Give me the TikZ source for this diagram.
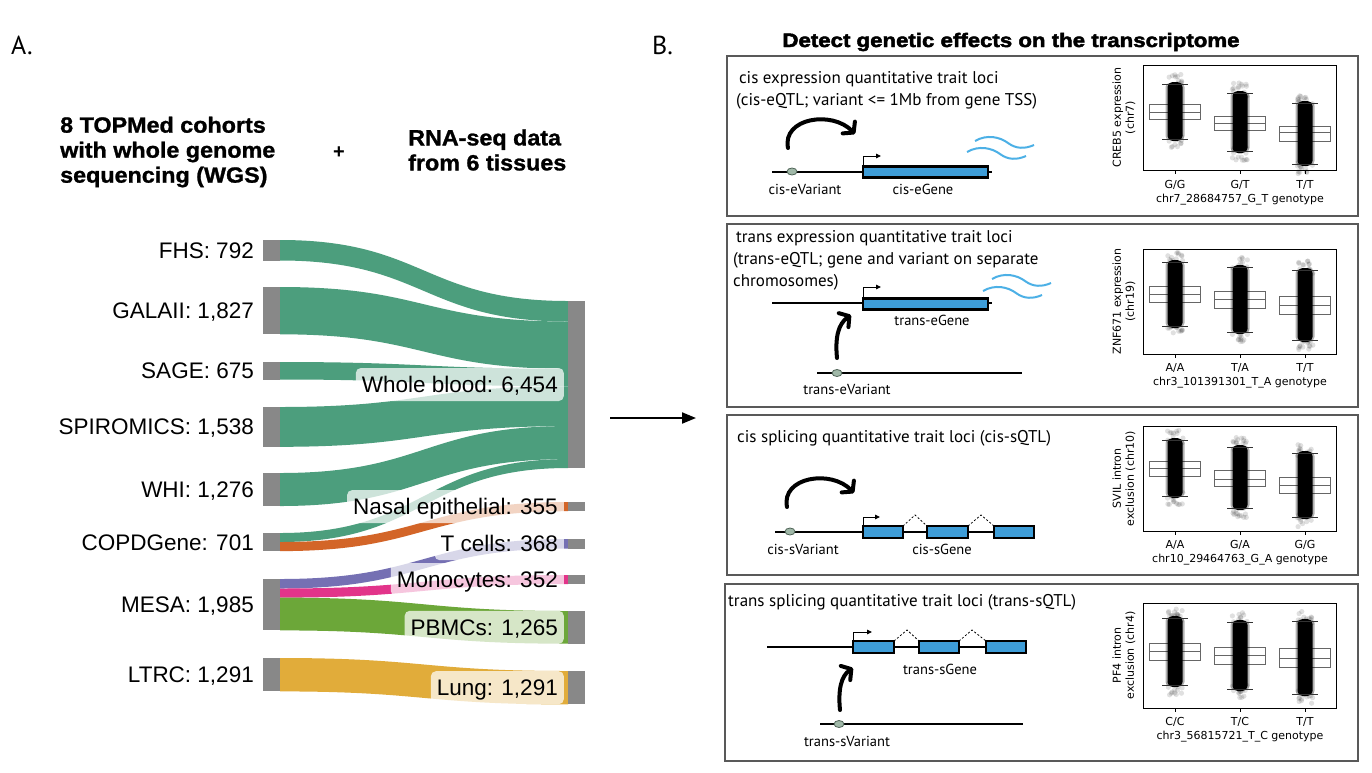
\documentclass[tikz,border=0pt]{standalone}
\usepackage{fontspec}
\setmainfont{Liberation Sans}
\newfontfamily\myr{PT Sans}
\newfontfamily\dv{DejaVu Sans}
\newfontfamily\heavy[BoldFeatures={FakeBold=2.5,FakeStretch=1.14}]{Liberation Sans}
\newfontfamily\semiheavy[BoldFeatures={FakeBold=1.2,FakeStretch=1.06}]{Liberation Sans}
\usetikzlibrary{arrows.meta,shapes.geometric}
\definecolor{wbg}{RGB}{76,158,125}
\definecolor{nas}{RGB}{211,101,40}
\definecolor{tce}{RGB}{117,112,179}
\definecolor{mon}{RGB}{226,52,138}
\definecolor{pbm}{RGB}{108,167,57}
\definecolor{lun}{RGB}{225,172,58}
\definecolor{barg}{RGB}{136,136,136}
\definecolor{exon}{RGB}{62,157,216}
\definecolor{wave}{RGB}{76,176,230}
\definecolor{varc}{RGB}{160,184,168}
\definecolor{vard}{RGB}{80,100,88}
\newcommand\sflow[5]{\fill[#1] (280,#2) .. controls (424,#2) and (424,#4) .. (568,#4) -- (568,#5) .. controls (424,#5) and (424,#3) .. (280,#3) -- cycle;}
\newcommand\wavy[2]{\draw[wavest] (#1,#2) .. controls (#1+12,#2-7) and (#1+25,#2-4) .. (#1+33,#2+2) .. controls (#1+41,#2+8) and (#1+50,#2+8) .. (#1+59,#2+4);}
\newcommand\bxp[6]{%
  \draw[bxs] (#1-25.5,#3) rectangle (#1+25.5,#5);
  \draw[bxs] (#1-25.5,#4) -- (#1+25.5,#4);
  \foreach \k in {1,...,16}{%
    \pgfmathsetmacro\jx{#1+8*rand}%
    \pgfmathsetmacro\jy{#2+4-14*rnd}%
    \fill[black,fill opacity=0.12] (\jx,\jy) circle (2.6);
    \pgfmathsetmacro\jy{#6-4+14*rnd}%
    \fill[black,fill opacity=0.12] (\jx,\jy) circle (2.6);
  }
  \fill[black,fill opacity=0.3,rounded corners=4pt] (#1-9.5,#2-1) rectangle (#1+9.5,#6+1);
  \fill[black,rounded corners=5pt] (#1-7.5,#2-2) rectangle (#1+7.5,#6+2);
  \draw[bxs,draw=black!80] (#1-13,#2) -- (#1+13,#2) (#1-13,#6) -- (#1+13,#6);
}
\newcommand\pframe{%
  \draw[line width=0.8pt] (1143,0) rectangle (1336,105);
  \draw[line width=0.8pt] (1175,105) -- (1175,109) (1240,105) -- (1240,109) (1305,105) -- (1305,109);
}
\begin{document}
\begin{tikzpicture}[x=1pt,y=-1pt,
  lbl/.style={font=\fontsize{22.5}{26}\selectfont, anchor=east, inner sep=0, text height=16pt, text depth=0pt},
  tlbl/.style={font=\fontsize{22.5}{26}\selectfont, anchor=east, fill=white, fill opacity=0.72, text opacity=1, rounded corners=5pt, minimum height=33pt, inner xsep=6pt, inner ysep=0pt, text height=16pt, text depth=0pt},
  hdr/.style={font=\semiheavy\bfseries\fontsize{22}{25}\selectfont, anchor=west, align=left, inner sep=0},
  qbox/.style={draw=black!65, line width=1.3pt},
  gline/.style={line width=2pt, draw=black},
  exonst/.style={fill=exon, draw=black, line width=2.2pt},
  tss/.style={line width=0.9pt, -{Triangle[length=5pt,width=4.5pt]}},
  wavest/.style={draw=wave, line width=2pt},
  varn/.style={ellipse, fill=varc, draw=vard, line width=0.8pt, minimum width=10pt, minimum height=7pt, inner sep=0},
  curvy/.style={line width=4pt, line cap=round, -{Straight Barb[length=7pt,width=17pt,round]}},
  splice/.style={line width=0.8pt, dash pattern=on 2pt off 2pt},
  small/.style={font=\myr\fontsize{14.5}{16}\selectfont, inner sep=0},
  ttl/.style={font=\myr\fontsize{17}{22}\selectfont, anchor=west, align=left, inner sep=0},
  bxs/.style={draw=black!60, line width=0.9pt},
  ptxt/.style={font=\dv\fontsize{11}{13}\selectfont, inner sep=0},
  ylab/.style={font=\dv\fontsize{11}{13}\selectfont, inner sep=0, rotate=90, align=center}
]
\useasboundingbox (0,0) rectangle (1372,772);
\fill[white] (0,0) rectangle (1372,772);

% ---------------- Panel A ----------------
\node[font=\myr\fontsize{26}{30}\selectfont, anchor=west, inner sep=0] (lA) at (11,45) {A.};
\node[hdr] (h1) at (60,152) {8 TOPMed cohorts\\with whole genome\\sequencing (WGS)};
\node[font=\bfseries\fontsize{20}{24}\selectfont, inner sep=0] (plus) at (339,153) {+};
\node[hdr] (h2) at (408,150) {RNA-seq data\\from 6 tissues};

% flows
\sflow{wbg}{240}{260.5}{301}{321.5}
\sflow{wbg}{287}{334.3}{321.5}{368.8}
\sflow{wbg}{362}{379.5}{368.8}{386.3}
\sflow{wbg}{407}{446.8}{386.3}{426.1}
\sflow{wbg}{473}{506}{426.1}{459.1}
\sflow{wbg}{533}{542}{459.1}{468}
\sflow{nas}{542}{551.1}{502}{511.2}
\sflow{tce}{579}{588.5}{539}{548.5}
\sflow{mon}{588.5}{597.6}{575}{584.1}
\sflow{pbm}{597.6}{630.4}{611}{643.7}
\sflow{lun}{658}{691.4}{671}{704.4}

% source bars
\foreach \a/\b in {240/260.5,287/334.3,362/379.5,407/446.8,473/506,533/551.1,579/630.4,658/691.4}
  \fill[barg] (263,\a) rectangle (280,\b);
% target bars
\foreach \a/\b in {301/468,502/511.2,539/548.5,575/584.1,611/643.7,671/704.4}
  \fill[barg] (568,\a) rectangle (585,\b);

% source labels
\node[lbl] (sFHS) at (254,250) {FHS: 792};
\node[lbl] (sGAL) at (254,310.6) {GALAII: 1,827};
\node[lbl] (sSAG) at (254,370.7) {SAGE: 675};
\node[lbl] (sSPI) at (254,426.9) {SPIROMICS: 1,538};
\node[lbl] (sWHI) at (254,489.5) {WHI: 1,276};
\node[lbl] (sCOP) at (254,542) {COPDGene: 701};
\node[lbl] (sMES) at (254,604.7) {MESA: 1,985};
\node[lbl] (sLTR) at (254,674.7) {LTRC: 1,291};

% target labels
\node[tlbl] (tWB) at (564,384.5) {Whole blood: 6,454};
\node[tlbl] (tNE) at (564,506.6) {Nasal epithelial: 355};
\node[tlbl] (tTC) at (564,543.7) {T cells: 368};
\node[tlbl] (tMO) at (564,579.5) {Monocytes: 352};
\node[tlbl] (tPB) at (564,627.3) {PBMCs: 1,265};
\node[tlbl] (tLU) at (564,687.7) {Lung: 1,291};

% big arrow
\coordinate (aS) at (610,418);
\coordinate (aE) at (696,418);
\draw[line width=2pt,-{Triangle[length=14pt,width=11pt]}] (aS) -- (aE);

% ---------------- Panel B ----------------
\node[font=\myr\fontsize{26}{30}\selectfont, anchor=west, inner sep=0] (lB) at (652,45) {B.};
\node[font=\heavy\bfseries\fontsize{19.5}{22}\selectfont, inner sep=0] (title) at (1011,42) {Detect genetic effects on the transcriptome};

\draw[qbox] (727,56) rectangle (1358,216);
\draw[qbox] (727,224) rectangle (1358,407);
\draw[qbox] (727,415) rectangle (1358,575);
\draw[qbox] (725,584) rectangle (1358,761);

% box 1: cis-eQTL
\node[ttl] (t1) at (736,90.5) {\,cis expression quantitative trait loci\\(cis-eQTL; variant <= 1Mb from gene TSS)};
\draw[gline] (772,171.5) -- (863,171.5);
\draw[gline] (988,171.5) -- (992,171.5);
\draw[exonst] (863,166.5) rectangle (988,177.5);
\draw[tss] (863,166.5) -- (863,156) -- (881,156);
\node[varn] (v1) at (792,171.5) {};
\node[small] (v1l) at (805,189) {cis-eVariant};
\node[small] (g1l) at (923,189) {cis-eGene};
\draw[curvy] (788,148) .. controls (782,118) and (832,110) .. (855,134);
\wavy{975}{141}
\wavy{967}{152}

% box 2: trans-eQTL
\node[ttl] (t2) at (733,260) {\,trans expression quantitative trait loci\\(trans-eQTL; gene and variant on separate\\chromosomes)};
\draw[gline] (772,303) -- (863,303);
\draw[gline] (988,303) -- (992,303);
\draw[exonst] (863,298.5) rectangle (988,309.5);
\draw[tss] (863,298.5) -- (863,287) -- (881,287);
\node[small] (g2l) at (932,320) {trans-eGene};
\draw[gline] (817,373) -- (1022,373);
\node[varn] (v2) at (837,373) {};
\node[small] (v2l) at (847,389) {trans-eVariant};
\draw[curvy] (837,358) .. controls (835,338) and (838,324) .. (851,315);
\wavy{992}{279}
\wavy{983}{291}

% box 3: cis-sQTL
\node[ttl] (t3) at (737,438) {cis splicing quantitative trait loci (cis-sQTL)};
\draw[gline] (775,531.5) -- (863,531.5);
\draw[gline] (903,531.5) -- (927,531.5) (968,531.5) -- (994,531.5);
\draw[exonst] (863,526) rectangle (903,538);
\draw[exonst] (927,526) rectangle (968,538);
\draw[exonst] (994,526) rectangle (1034,538);
\draw[splice] (903,526) -- (915,515) -- (927,526);
\draw[splice] (968,526) -- (981,515) -- (994,526);
\draw[tss] (863,526) -- (863,517) -- (880,517);
\node[varn] (v3) at (790,531.5) {};
\node[small] (v3l) at (803,549) {cis-sVariant};
\node[small] (g3l) at (942,549) {cis-sGene};
\draw[curvy] (787,507) .. controls (781,477) and (831,469) .. (854,493);

% box 4: trans-sQTL
\node[ttl] (t4) at (728,602) {trans splicing quantitative trait loci (trans-sQTL)};
\draw[gline] (767,646.5) -- (853,646.5);
\draw[gline] (894,646.5) -- (919,646.5) (959,646.5) -- (986,646.5);
\draw[exonst] (853,641) rectangle (894,653);
\draw[exonst] (919,641) rectangle (959,653);
\draw[exonst] (986,641) rectangle (1026,653);
\draw[splice] (894,641) -- (907,630) -- (919,641);
\draw[splice] (959,641) -- (972,630) -- (986,641);
\draw[tss] (853,641) -- (853,632) -- (872,632);
\node[small] (g4l) at (940,669) {trans-sGene};
\draw[gline] (820,724) -- (1023,724);
\node[varn] (v4) at (839,724) {};
\node[small] (v4l) at (847,741) {trans-sVariant};
\draw[curvy] (840,710) .. controls (838,690) and (841,676) .. (853,668);

% ---------------- plots ----------------
\pgfmathsetseed{7}
\begin{scope}[shift={(0,65)}]
  \bxp{1175}{19}{39}{47}{54}{74}
  \bxp{1240}{28}{51}{58}{65}{86}
  \bxp{1305}{38}{61}{67}{76}{99}
  \pframe
\end{scope}
\node[ptxt] (p1a) at (1175,185) {G/G};
\node[ptxt] (p1b) at (1240,185) {G/T};
\node[ptxt] (p1c) at (1305,185) {T/T};
\node[ptxt] (p1x) at (1240,200) {chr7\_28684757\_G\_T genotype};
\node[ylab] (p1y) at (1124,117.5) {CREB5 expression\\(chr7)};

\begin{scope}[shift={(0,249)}]
  \bxp{1175}{13}{37}{45}{53}{77}
  \bxp{1240}{18}{42}{50}{59}{83}
  \bxp{1305}{21}{47}{56}{65}{91}
  \pframe
\end{scope}
\node[ptxt] (p2a) at (1175,368) {A/A};
\node[ptxt] (p2b) at (1240,368) {T/A};
\node[ptxt] (p2c) at (1305,368) {T/T};
\node[ptxt] (p2x) at (1240,383) {chr3\_101391301\_T\_A genotype};
\node[ylab] (p2y) at (1124,301.5) {ZNF671 expression\\(chr19)};

\begin{scope}[shift={(0,426)}]
  \bxp{1175}{14}{35}{42}{50}{70}
  \bxp{1240}{21}{44}{53}{60}{82}
  \bxp{1305}{27}{51}{59}{67}{91}
  \pframe
\end{scope}
\node[ptxt] (p3a) at (1175,545) {A/A};
\node[ptxt] (p3b) at (1240,545) {G/A};
\node[ptxt] (p3c) at (1305,545) {G/G};
\node[ptxt] (p3x) at (1240,560) {chr10\_29464763\_G\_A genotype};
\node[ylab] (p3y) at (1124,478.5) {SVIL intron\\exclusion (chr10)};

\begin{scope}[shift={(0,603)}]
  \bxp{1175}{15}{40}{48}{57}{82}
  \bxp{1240}{19}{44}{52}{61}{86}
  \bxp{1305}{18}{45}{55}{64}{91}
  \pframe
\end{scope}
\node[ptxt] (p4a) at (1175,722) {C/C};
\node[ptxt] (p4b) at (1240,722) {T/C};
\node[ptxt] (p4c) at (1305,722) {T/T};
\node[ptxt] (p4x) at (1240,737) {chr3\_56815721\_T\_C genotype};
\node[ylab] (p4y) at (1124,655.5) {PF4 intron\\exclusion (chr4)};
\end{tikzpicture}
\end{document}
